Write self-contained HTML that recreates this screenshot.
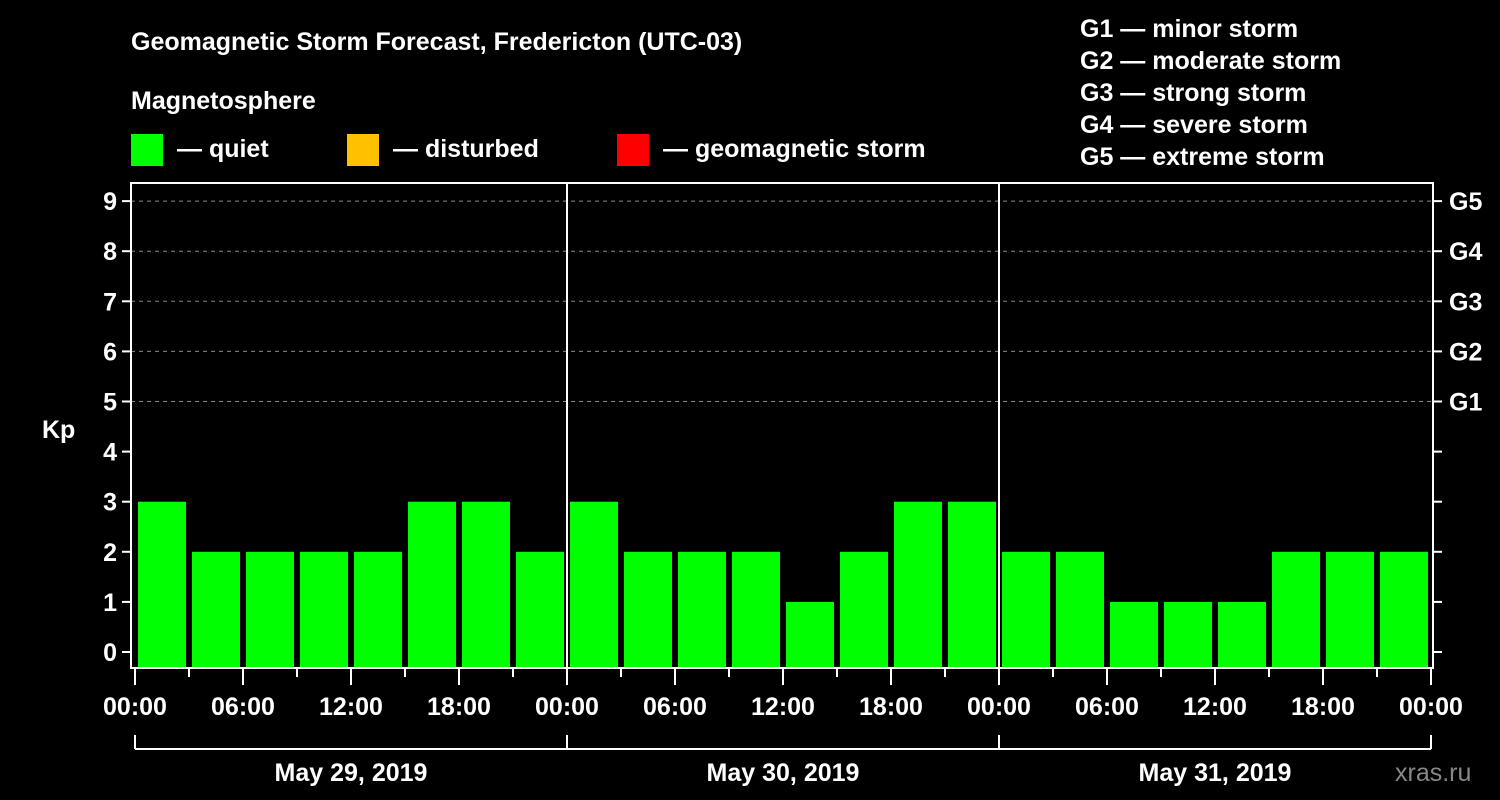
<!DOCTYPE html>
<html><head><meta charset="utf-8"><style>
body{margin:0;background:#000;width:1500px;height:800px;overflow:hidden}
svg{display:block;font-family:"Liberation Sans",Arial,sans-serif;font-weight:bold}
</style></head><body>
<svg id="c" width="1500" height="800">
<rect width="1500" height="800" fill="#000"/>
<text x="131" y="50" fill="#fff" font-size="25">Geomagnetic Storm Forecast, Fredericton (UTC-03)</text>
<text x="131" y="109" fill="#fff" font-size="25">Magnetosphere</text>
<g><rect x="131" y="134" width="32" height="32" fill="#00ff00"/><text x="177" y="157" fill="#fff" font-size="25">— quiet</text></g>
<g><rect x="347" y="134" width="32" height="32" fill="#ffc000"/><text x="393" y="157" fill="#fff" font-size="25">— disturbed</text></g>
<g><rect x="617" y="134" width="32" height="32" fill="#ff0000"/><text x="663" y="157" fill="#fff" font-size="25">— geomagnetic storm</text></g>
<g fill="#fff" font-size="25">
<text x="1080" y="37">G1 — minor storm</text><text x="1080" y="69">G2 — moderate storm</text><text x="1080" y="101">G3 — strong storm</text><text x="1080" y="133">G4 — severe storm</text><text x="1080" y="165">G5 — extreme storm</text>
</g>
<text x="42" y="438" fill="#fff" font-size="25">Kp</text>
<text x="1395" y="781" fill="#888" font-size="25" font-weight="normal">xras.ru</text>
<g id="grid"></g><g id="bars"></g><g id="axes"></g>
</svg>
<script>
const kpValues=[3,2,2,2,2,3,3,2, 3,2,2,2,1,2,3,3, 2,2,1,1,1,2,2,2];
const timeLabels=["00:00","06:00","12:00","18:00"];
const dayLabels=["May 29, 2019","May 30, 2019","May 31, 2019"];
const yTicks=[0,1,2,3,4,5,6,7,8,9];
const gLabels=["G1","G2","G3","G4","G5"];
const NS="http://www.w3.org/2000/svg";
const X0=135,SLOT=54,Y0=652,YU=50.1,LEFT=131,RIGHT=1433,TOP=183,BOT=668;
const xs=i=>X0+i*SLOT, ys=v=>Y0-v*YU;
function mk(t,a,p){const e=document.createElementNS(NS,t);for(const k in a)e.setAttribute(k,a[k]);p.appendChild(e);return e;}
const grid=document.getElementById('grid'),bars=document.getElementById('bars'),axes=document.getElementById('axes');
yTicks.forEach(v=>{
 if(v>=5){const l=mk('line',{x1:LEFT,x2:RIGHT,y1:ys(v),y2:ys(v),stroke:'#888','stroke-dasharray':'4,4','stroke-width':1},grid);
 
 }
 mk('line',{x1:LEFT-9,x2:LEFT,y1:ys(v),y2:ys(v),stroke:'#fff','stroke-width':2},axes);
 mk('line',{x1:RIGHT,x2:RIGHT+9,y1:ys(v),y2:ys(v),stroke:'#fff','stroke-width':2},axes);
 const t=mk('text',{x:LEFT-14,y:ys(v)+9,fill:'#fff','font-size':25,'text-anchor':'end'},axes);t.textContent=v;
 
 
});
gLabels.forEach((g,i)=>{const t=mk('text',{x:1449,y:ys(5+i)+9,fill:'#fff','font-size':25},axes);t.textContent=g;
 
 });
kpValues.forEach((v,i)=>{
 const c=v>=5?'#ff0000':(v>=4?'#ffc000':'#00ff00');
 const r=mk('rect',{x:xs(i)+3,y:ys(v),width:SLOT-6,height:BOT-ys(v),fill:c},bars);
 
 
});
mk('rect',{x:LEFT,y:TOP,width:RIGHT-LEFT,height:BOT-TOP,fill:'none',stroke:'#fff','stroke-width':2},axes);
for(let d=1;d<dayLabels.length;d++)mk('line',{x1:xs(d*8),x2:xs(d*8),y1:TOP,y2:BOT,stroke:'#fff','stroke-width':2},axes);
for(let i=0;i<=kpValues.length;i++){
 const long=i%2===0;
 mk('line',{x1:xs(i),x2:xs(i),y1:BOT,y2:BOT+(long?17:9),stroke:'#fff','stroke-width':2},axes);
 if(long){const t=mk('text',{x:xs(i),y:715,fill:'#fff','font-size':25,'text-anchor':'middle'},axes);
 t.textContent=timeLabels[(i/2)%4];
 
 }
}
mk('line',{x1:xs(0),x2:xs(kpValues.length),y1:749,y2:749,stroke:'#fff','stroke-width':2},axes);
dayLabels.forEach((d,i)=>{
 mk('line',{x1:xs(i*8),x2:xs(i*8),y1:735,y2:749,stroke:'#fff','stroke-width':2},axes);
 const t=mk('text',{x:xs(i*8+4),y:781,fill:'#fff','font-size':25,'text-anchor':'middle'},axes);t.textContent=d;
 
 
});
mk('line',{x1:xs(24),x2:xs(24),y1:735,y2:749,stroke:'#fff','stroke-width':2},axes);
</script>
</body></html>
